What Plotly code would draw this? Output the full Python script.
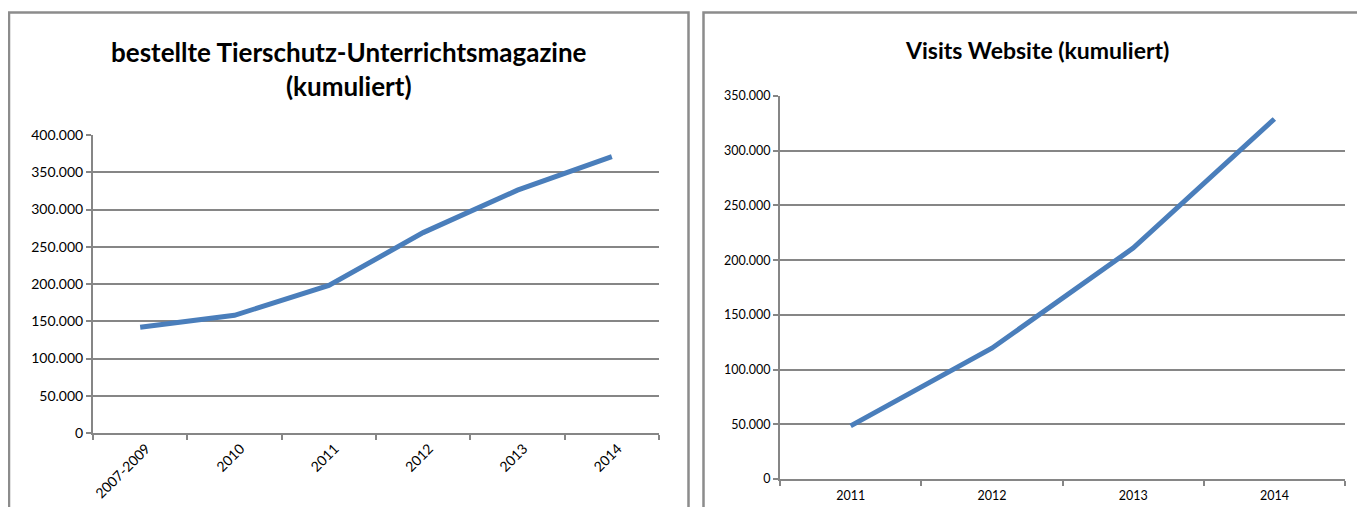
import plotly.graph_objects as go

# page body has an 8px margin on every side; size the figure so the page fits the window
OFF = 8
W, H = 1365 - 2 * OFF, 515 - 2 * OFF

# Left chart data
left_title = "bestellte Tierschutz-Unterrichtsmagazine<br>(kumuliert)"
left_categories = ["2007-2009", "2010", "2011", "2012", "2013", "2014"]
left_values = [142000, 158000, 198000, 269000, 326000, 371000]
left_ticks = [0, 50000, 100000, 150000, 200000, 250000, 300000, 350000, 400000]

# Right chart data
right_title = "Visits Website (kumuliert)"
right_categories = ["2011", "2012", "2013", "2014"]
right_values = [48500, 119500, 211000, 329000]
right_ticks = [0, 50000, 100000, 150000, 200000, 250000, 300000, 350000]

LINE = "#4A7EBB"
GRID = "#868686"
FONT = "Lato, 'Open Sans', sans-serif"


def px(x):
    return (x - OFF) / W


def py(y):
    return 1 - (y - OFF) / H


fig = go.Figure()
fig.add_trace(go.Scatter(x=left_categories, y=left_values, mode="lines",
                         line=dict(color=LINE, width=5), xaxis="x", yaxis="y",
                         showlegend=False))
fig.add_trace(go.Scatter(x=right_categories, y=right_values, mode="lines",
                         line=dict(color=LINE, width=5), xaxis="x2", yaxis="y2",
                         showlegend=False))

axis_common = dict(showline=True, linecolor=GRID, linewidth=2, ticks="outside",
                   ticklen=5, tickcolor=GRID, tickwidth=1.5, zeroline=False,
                   automargin=False)

fig.update_layout(
    width=W, height=H, margin=dict(l=0, r=0, t=0, b=0, pad=0, autoexpand=False),
    paper_bgcolor="white", plot_bgcolor="white",
    separators=",.",
    font=dict(family=FONT, color="#000000"),
    xaxis=dict(domain=[px(93), px(659)], anchor="y", type="category",
               range=[-0.5, 5.5], tickson="boundaries", showgrid=False,
               tickangle=-45, tickfont=dict(size=14), ticklabelshift=6,
               **axis_common),
    yaxis=dict(domain=[py(433), py(135)], anchor="x", range=[0, 400000],
               tickvals=left_ticks, tickformat=",d", showgrid=True,
               gridcolor=GRID, gridwidth=2, tickfont=dict(size=14), **axis_common),
    xaxis2=dict(domain=[px(780), px(1345)], anchor="y2", type="category",
                range=[-0.5, 3.5], tickson="boundaries", showgrid=False,
                tickangle=0, tickfont=dict(size=12.5), ticklabelstandoff=4,
                **axis_common),
    yaxis2=dict(domain=[py(479), py(96)], anchor="x2", range=[0, 350000],
                tickvals=right_ticks, tickformat=",d", showgrid=True,
                gridcolor=GRID, gridwidth=2, tickfont=dict(size=12.5), **axis_common),
    shapes=[
        dict(type="rect", xref="paper", yref="paper", x0=px(9), x1=px(688.5),
             y0=py(530), y1=py(12.5), line=dict(color="#8C8C8C", width=2.5)),
        dict(type="rect", xref="paper", yref="paper", x0=px(703.5), x1=px(1380),
             y0=py(530), y1=py(12.5), line=dict(color="#8C8C8C", width=2.5)),
    ],
    annotations=[
        dict(text="<b>" + left_title + "</b>", xref="paper", yref="paper",
             x=px(349), y=py(69), xanchor="center", yanchor="middle",
             showarrow=False, font=dict(size=26, family=FONT)),
        dict(text="<b>" + right_title + "</b>", xref="paper", yref="paper",
             x=px(1037), y=py(50), xanchor="center", yanchor="middle",
             showarrow=False, font=dict(size=23, family=FONT)),
    ],
)

fig.write_html("out.html")
